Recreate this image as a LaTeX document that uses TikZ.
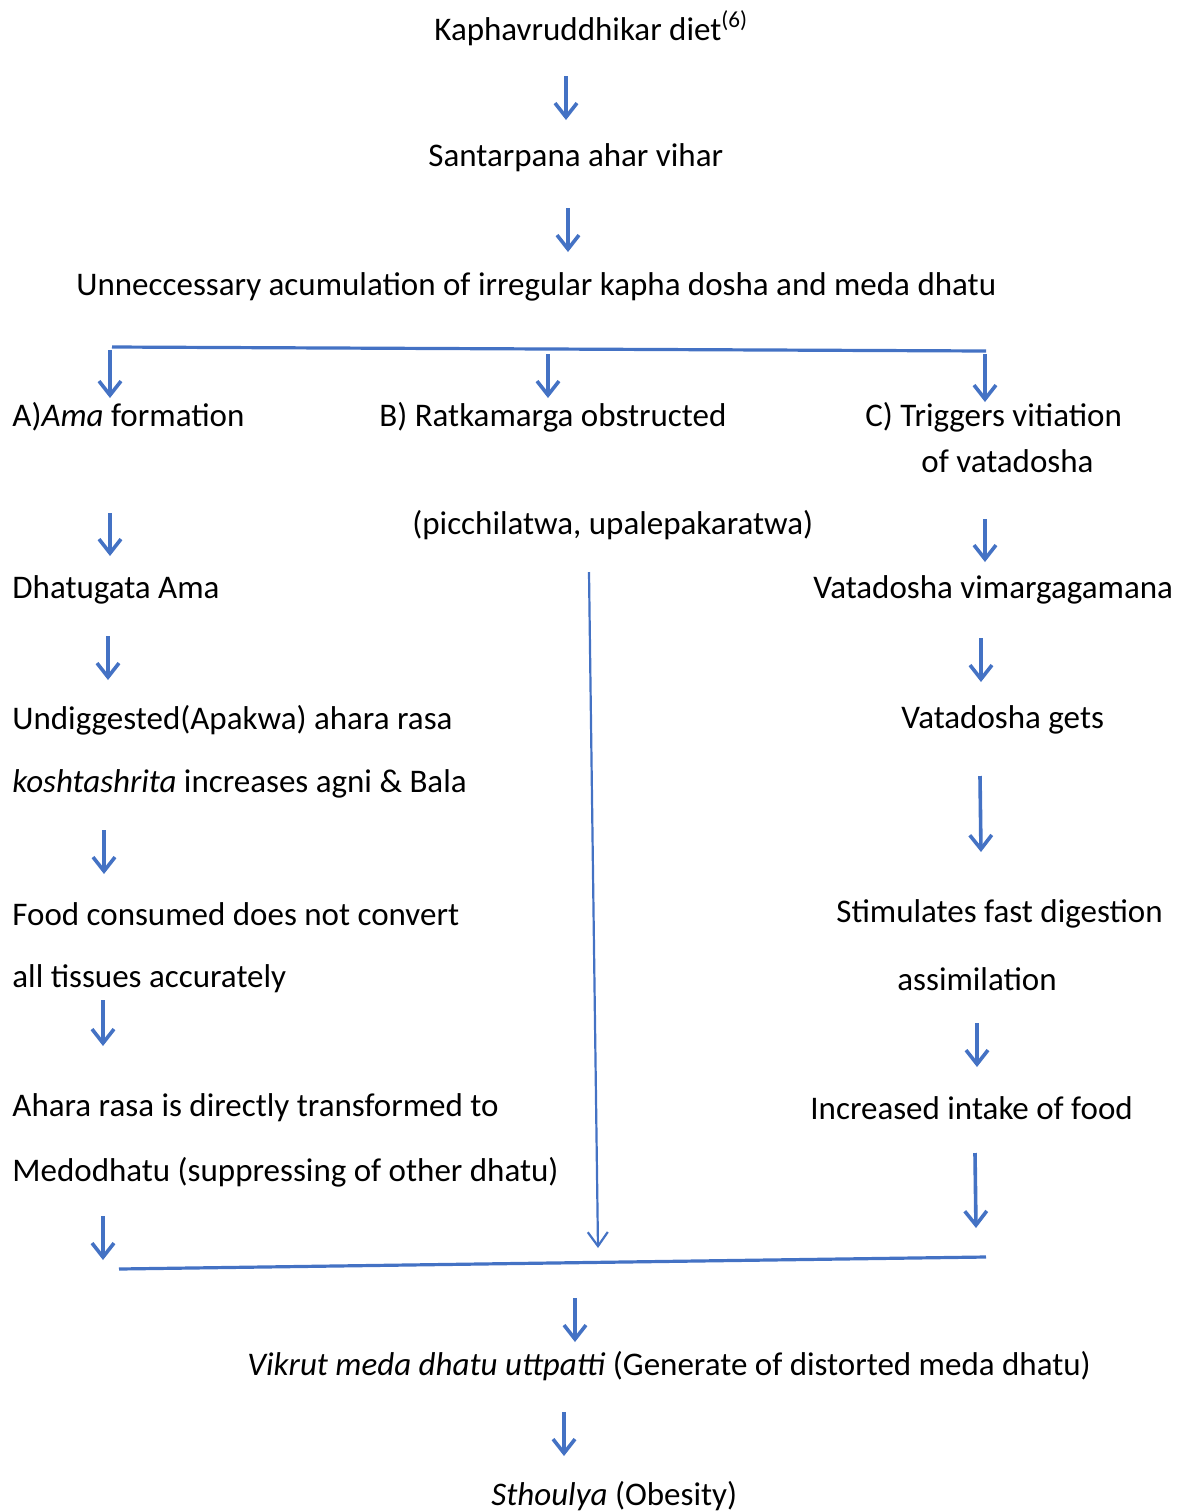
\documentclass[tikz,border=0pt]{standalone}
\usepackage{fontspec}
\setmainfont{Carlito}
\usetikzlibrary{arrows.meta}
\definecolor{flowblue}{HTML}{4472C4}

\begin{document}
\begin{tikzpicture}[x=0.5pt, y=-0.5pt,
    txt/.style={anchor=west, inner sep=0pt, font=\fontsize{16.5}{19}\selectfont},
    flow/.style={draw=flowblue, line width=1.8pt, -{Straight Barb[length=7pt,width=11pt]}},
    thinflow/.style={draw=flowblue, line width=1.1pt, -{Straight Barb[length=7pt,width=10pt]}},
    bar/.style={draw=flowblue, line width=1.6pt}]
    \useasboundingbox (0,0) rectangle (1184,1512);

    % main chain
    \node [txt] (diet) at (434,28) {Kaphavruddhikar diet\textsuperscript{(6)}};
    \node [txt] (santarpana) at (428,158) {Santarpana ahar vihar};
    \node [txt] (accum) at (76,287) {Unneccessary acumulation of irregular kapha dosha and meda dhatu};

    % branch A
    \node [txt] (ama) at (12,417) {A)\textit{Ama} formation};
    \node [txt] (dhatugata) at (12,590) {Dhatugata Ama};
    \node [txt] (undig) at (12,720) {Undiggested(Apakwa) ahara rasa};
    \node [txt] (kosht) at (12,784) {\textit{koshtashrita} increases agni \& Bala};
    \node [txt] (food) at (12,914) {Food consumed does not convert};
    \node [txt] (tissues) at (12,979) {all tissues accurately};
    \node [txt] (ahara) at (12,1108) {Ahara rasa is directly transformed to};
    \node [txt] (medo) at (12,1172) {Medodhatu (suppressing of other dhatu)};

    % branch B
    \node [txt] (ratka) at (379,417) {B) Ratkamarga obstructed};
    \node [txt] (picch) at (412,525) {(picchilatwa, upalepakaratwa)};

    % branch C
    \node [txt] (trig) at (865,417) {C) Triggers vitiation};
    \node [txt] (trigb) at (921,461) {of vatadosha};
    \node [txt] (vimarga) at (813,590) {Vatadosha vimargagamana};
    \node [txt] (gets) at (901,720) {Vatadosha gets};
    \node [txt] (stim) at (836,914) {Stimulates fast digestion};
    \node [txt] (assim) at (897,979) {assimilation};
    \node [txt] (intake) at (810,1108) {Increased intake of food};

    % result
    \node [txt] (vikrut) at (247,1366) {\textit{Vikrut meda dhatu uttpatti} (Generate of distorted meda dhatu)};
    \node [txt] (sthoulya) at (491,1496) {\textit{Sthoulya} (Obesity)};

    % arrow ends
    \coordinate (d1) at (566,76);  \coordinate (d2) at (566,120);
    \coordinate (s1) at (568,208); \coordinate (s2) at (568,252);
    \coordinate (topL) at (112,347); \coordinate (topR) at (986,351);
    \coordinate (a0) at (110,350); \coordinate (a0e) at (110,398);
    \coordinate (b0) at (548,354); \coordinate (b0e) at (548,398);
    \coordinate (c0) at (985,354); \coordinate (c0e) at (985,402);
    \coordinate (a1) at (110,513); \coordinate (a1e) at (110,556);
    \coordinate (a2) at (108,636); \coordinate (a2e) at (108,680);
    \coordinate (a3) at (104,830); \coordinate (a3e) at (104,874);
    \coordinate (a4) at (103,1000); \coordinate (a4e) at (103,1046);
    \coordinate (a5) at (103,1216); \coordinate (a5e) at (103,1260);
    \coordinate (b1) at (589,572); \coordinate (b1e) at (598,1248);
    \coordinate (c1) at (985,519); \coordinate (c1e) at (985,562);
    \coordinate (c2) at (981,638); \coordinate (c2e) at (981,682);
    \coordinate (c3) at (980,776); \coordinate (c3e) at (981,852);
    \coordinate (c4) at (977,1023); \coordinate (c4e) at (977,1067);
    \coordinate (c5) at (975,1153); \coordinate (c5e) at (976,1228);
    \coordinate (botL) at (119,1269); \coordinate (botR) at (986,1257);
    \coordinate (r1) at (575,1298); \coordinate (r1e) at (575,1342);
    \coordinate (r2) at (564,1412); \coordinate (r2e) at (564,1456);

    \draw [flow] (d1) -- (d2);
    \draw [flow] (s1) -- (s2);
    \draw [bar] (topL) -- (topR);
    \draw [flow] (a0) -- (a0e);
    \draw [flow] (b0) -- (b0e);
    \draw [flow] (c0) -- (c0e);
    \draw [flow] (a1) -- (a1e);
    \draw [flow] (a2) -- (a2e);
    \draw [flow] (a3) -- (a3e);
    \draw [flow] (a4) -- (a4e);
    \draw [flow] (a5) -- (a5e);
    \draw [thinflow] (b1) -- (b1e);
    \draw [flow] (c1) -- (c1e);
    \draw [flow] (c2) -- (c2e);
    \draw [flow] (c3) -- (c3e);
    \draw [flow] (c4) -- (c4e);
    \draw [flow] (c5) -- (c5e);
    \draw [bar] (botL) -- (botR);
    \draw [flow] (r1) -- (r1e);
    \draw [flow] (r2) -- (r2e);
\end{tikzpicture}
\end{document}
